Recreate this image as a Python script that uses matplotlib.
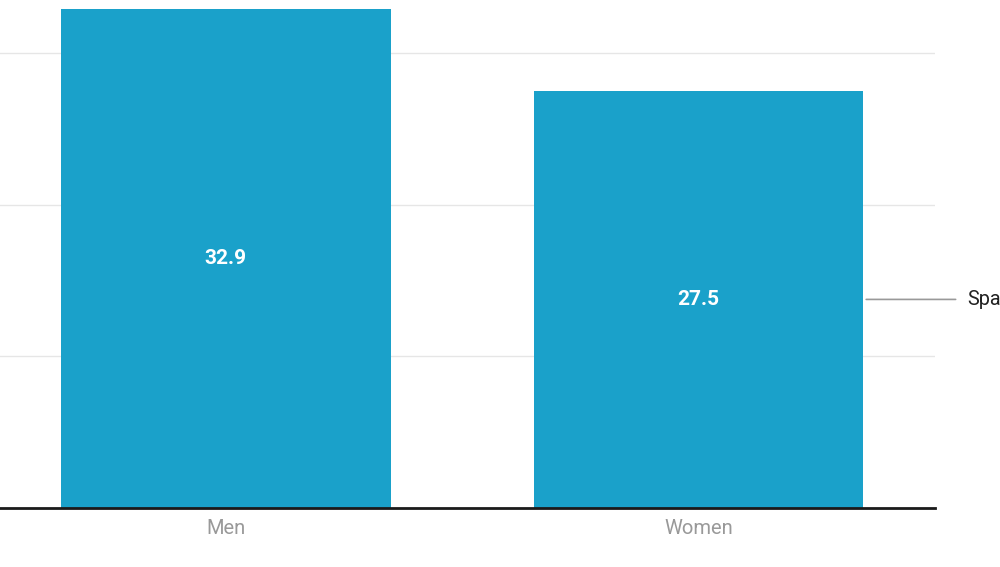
import matplotlib
matplotlib.use("Agg")
import matplotlib.pyplot as plt

categories = ["Men", "Women"]
values = [32.9, 27.5]
annotation_label = "Spain"
grid_ticks = [10, 20, 30]

W, H = 1000, 567
fig = plt.figure(figsize=(W / 100, H / 100), dpi=100)
ax = fig.add_axes([0, (H - 508) / H, 935 / W, 508 / H])

bar_color = "#1aa1ca"
x = list(range(len(categories)))
ax.bar(x, values, width=0.698, color=bar_color, zorder=2)

ax.set_xlim(-0.478, 1.5005)
ax.set_ylim(0, 508 / 15.17)

for t in grid_ticks:
    ax.axhline(t, color="#e6e6e6", lw=1, zorder=1)
ax.axhline(0, color="#1a1a1a", lw=2, zorder=3, clip_on=False)

for s in ax.spines.values():
    s.set_visible(False)
ax.set_yticks([])
ax.set_xticks(x)
ax.set_xticklabels(categories, fontfamily="Roboto", fontsize=14.5, color="#999999")
ax.tick_params(axis="x", length=0, pad=8)

for xi, v in zip(x, values):
    ax.text(xi, v / 2, f"{v}", ha="center", va="center", color="white",
            fontfamily="Roboto", fontweight="bold", fontsize=15, zorder=4)

# Annotation line from right edge of last bar
last = x[-1]
ax.annotate("", xy=(last + 0.349, values[-1] / 2), xytext=(last + 0.349 + 95 / 472.5, values[-1] / 2),
            arrowprops=dict(arrowstyle="-", color="#999999", lw=1.2), annotation_clip=False)
ax.text(last + 0.349 + 104 / 472.5, values[-1] / 2, annotation_label, ha="left", va="center",
        fontfamily="Roboto", fontsize=14.3, color="#222222", clip_on=False)

fig.savefig("out.png", dpi=100)
